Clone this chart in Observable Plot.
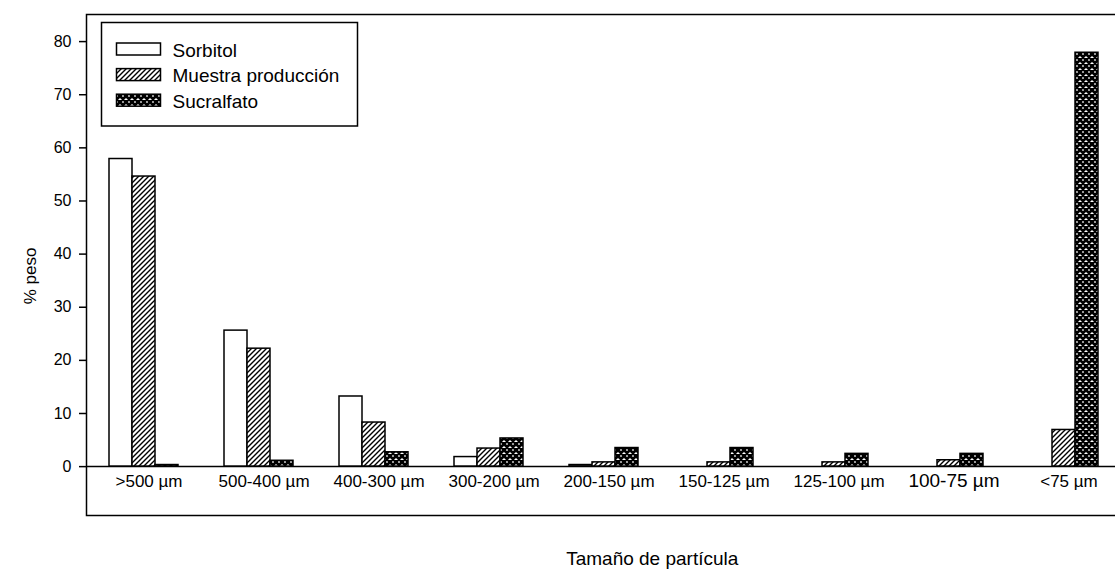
<!DOCTYPE html>
<html>
<head>
<meta charset="utf-8">
<script src="https://cdn.jsdelivr.net/npm/d3@7"></script>
<script src="https://cdn.jsdelivr.net/npm/@observablehq/plot@0.6"></script>
<style>
  html, body { margin: 0; padding: 0; background: #fff; overflow: hidden; }
  #chart svg { display: block; }
  #chart [aria-label="y-axis tick"] { stroke-width: 1.5; }
</style>
</head>
<body>
<div id="chart"></div>
<script>
// Particle size distribution (% by weight) per sieve fraction
const categories = [">500 µm", "500-400 µm", "400-300 µm", "300-200 µm", "200-150 µm", "150-125 µm", "125-100 µm", "100-75 µm", "<75 µm"];
const seriesNames = ["Sorbitol", "Muestra producción", "Sucralfato"];
const sorbitol   = [57.9, 25.6, 13.2, 1.8, 0.3, 0, 0, 0, 0];
const muestra    = [54.6, 22.2, 8.3, 3.4, 0.8, 0.8, 0.8, 1.2, 6.9];
const sucralfato = [0.3, 1.1, 2.7, 5.3, 3.5, 3.5, 2.4, 2.4, 77.9];
const yTicks = [0, 10, 20, 30, 40, 50, 60, 70, 80];

const seriesValues = [sorbitol, muestra, sucralfato];
const rows = categories.flatMap((c, i) =>
  seriesNames.map((s, k) => ({category: c, series: s, value: seriesValues[k][i]}))
);

// white, diagonal hatch, dense cross-hatch
const fills = ["white", "url(#hatch)", "url(#cross)"];
const font = "'Liberation Sans', Arial, Helvetica, sans-serif";

const barMarks = seriesNames.map((s, k) =>
  Plot.barY(rows.filter(r => r.series === s && r.value > 0), {
    x: "category",
    y: "value",
    fill: fills[k],
    stroke: "black",
    strokeWidth: 1.5,
    insetLeft: 23 * (k + 1),
    insetRight: 23 * (3 - k)
  })
);

const svg = Plot.plot({
  width: 1115,
  height: 575,
  marginLeft: 86,
  marginRight: -6.5,
  marginTop: 14,
  marginBottom: 60,
  style: {fontFamily: font, fontSize: "16px", color: "black", background: "white"},
  x: {domain: categories, padding: 0, axis: null},
  y: {domain: [-9.2, 85.1], ticks: yTicks, tickSize: 7, tickPadding: 8, label: null, tickFormat: d => String(d)},
  marks: [
    ...barMarks,
    Plot.ruleY([0], {stroke: "black", strokeWidth: 1.5}),
    Plot.frame({stroke: "black", strokeWidth: 1.5}),
    Plot.text(categories, {
      x: d => d,
      text: d => d,
      frameAnchor: "bottom",
      dy: -29,
      dx: 5,
      fontSize: d => d === "100-75 µm" ? 19 : 17
    }),
    Plot.text(["Tamaño de partícula"], {frameAnchor: "bottom", dy: 49, dx: 48, fontSize: 19}),
    Plot.text(["% peso"], {frameAnchor: "left", textAnchor: "middle", rotate: -90, dx: -56, dy: 11, fontSize: 17})
  ]
});

// fill patterns for the bars and legend swatches
const defs = d3.select(svg).insert("defs", ":first-child");
const hatch = defs.append("pattern")
  .attr("id", "hatch").attr("patternUnits", "userSpaceOnUse")
  .attr("width", 5).attr("height", 5);
hatch.append("rect").attr("width", 5).attr("height", 5).attr("fill", "white");
hatch.append("path")
  .attr("d", "M-1,1L1,-1M0,5L5,0M4,6L6,4")
  .attr("stroke", "black").attr("stroke-width", 1.4);
const cross = defs.append("pattern")
  .attr("id", "cross").attr("patternUnits", "userSpaceOnUse")
  .attr("width", 6).attr("height", 6);
cross.append("rect").attr("width", 6).attr("height", 6).attr("fill", "white");
cross.append("path")
  .attr("d", "M0,0L6,6M6,0L0,6M5,-1L7,1M-1,5L1,7M-1,1L1,-1M5,7L7,5")
  .attr("stroke", "black").attr("stroke-width", 2.7);

// legend box in the upper-left corner of the frame
const lg = d3.select(svg).append("g")
  .attr("font-family", font).attr("font-size", 19).attr("fill", "black")
  .attr("text-anchor", "start");
lg.append("rect")
  .attr("x", 101.5).attr("y", 22.5).attr("width", 256).attr("height", 103.5)
  .attr("fill", "white").attr("stroke", "black").attr("stroke-width", 1.5);
seriesNames.forEach((s, k) => {
  const cy = 49 + k * 25.6;
  lg.append("rect")
    .attr("x", 116.5).attr("y", cy - 6).attr("width", 44).attr("height", 12)
    .attr("fill", fills[k]).attr("stroke", "black").attr("stroke-width", 1.5);
  lg.append("text").attr("x", 172.5).attr("y", cy + 7.5).text(s);
});

document.getElementById("chart").appendChild(svg);
</script>
</body>
</html>
